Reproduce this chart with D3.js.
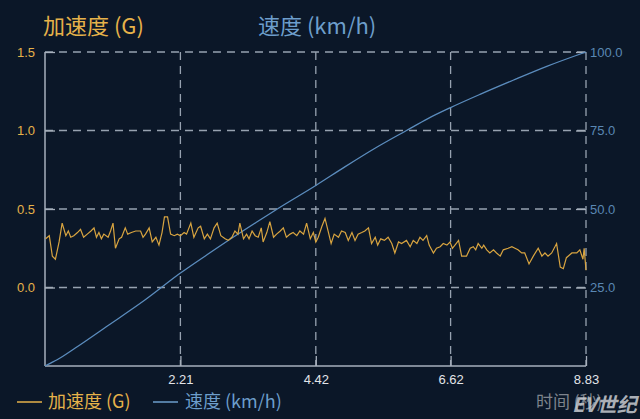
<!DOCTYPE html>
<html><head><meta charset="utf-8">
<script src="https://cdn.jsdelivr.net/npm/d3@7/dist/d3.min.js"></script>
<style>
html,body{margin:0;padding:0;background:#0b1728;}
svg{display:block;}
</style></head>
<body>
<svg id="c" width="640" height="419"></svg>
<script>
// ---- data ----
const accelTime = [0.01,0.07,0.12,0.17,0.23,0.28,0.34,0.38,0.42,0.47,0.53,0.58,0.63,0.69,0.75,0.80,0.84,0.88,0.92,0.96,1.03,1.07,1.11,1.15,1.21,1.25,1.31,1.35,1.41,1.48,1.56,1.60,1.64,1.70,1.75,1.81,1.86,1.91,1.95,2.00,2.05,2.11,2.16,2.21,2.27,2.31,2.38,2.43,2.50,2.54,2.60,2.65,2.70,2.76,2.81,2.87,2.94,2.99,3.05,3.10,3.15,3.18,3.24,3.29,3.33,3.38,3.43,3.48,3.53,3.56,3.62,3.67,3.73,3.78,3.84,3.89,3.94,4.00,4.05,4.11,4.16,4.22,4.27,4.33,4.38,4.42,4.46,4.52,4.57,4.62,4.67,4.72,4.79,4.84,4.90,4.95,5.01,5.06,5.11,5.17,5.22,5.28,5.33,5.39,5.43,5.48,5.54,5.60,5.66,5.71,5.77,5.82,5.90,5.96,6.01,6.07,6.12,6.17,6.23,6.27,6.34,6.39,6.45,6.50,6.56,6.61,6.65,6.71,6.75,6.80,6.88,6.94,6.99,7.03,7.07,7.13,7.16,7.21,7.26,7.32,7.37,7.43,7.48,7.56,7.62,7.67,7.72,7.78,7.83,7.90,7.97,8.05,8.11,8.16,8.21,8.27,8.35,8.41,8.46,8.51,8.60,8.68,8.73,8.78,8.80,8.83];
const accelValue = [0.31,0.33,0.20,0.18,0.29,0.41,0.33,0.36,0.32,0.33,0.35,0.37,0.32,0.34,0.36,0.38,0.32,0.35,0.31,0.34,0.32,0.36,0.41,0.25,0.31,0.32,0.38,0.34,0.35,0.36,0.36,0.32,0.34,0.38,0.29,0.32,0.27,0.35,0.45,0.45,0.34,0.33,0.34,0.33,0.35,0.34,0.41,0.32,0.38,0.39,0.31,0.34,0.31,0.38,0.41,0.33,0.31,0.30,0.32,0.36,0.34,0.41,0.31,0.34,0.31,0.36,0.33,0.32,0.38,0.29,0.35,0.42,0.32,0.34,0.36,0.38,0.32,0.34,0.35,0.33,0.36,0.34,0.41,0.31,0.35,0.29,0.32,0.39,0.44,0.36,0.28,0.34,0.32,0.36,0.35,0.30,0.35,0.30,0.34,0.35,0.36,0.38,0.28,0.32,0.27,0.31,0.30,0.32,0.28,0.22,0.29,0.28,0.30,0.26,0.30,0.28,0.32,0.30,0.33,0.27,0.22,0.25,0.26,0.28,0.27,0.29,0.25,0.28,0.30,0.20,0.20,0.25,0.26,0.24,0.28,0.25,0.27,0.24,0.22,0.24,0.22,0.20,0.24,0.25,0.26,0.25,0.24,0.22,0.22,0.15,0.20,0.25,0.20,0.22,0.20,0.22,0.28,0.13,0.12,0.19,0.22,0.22,0.24,0.18,0.25,0.11];
const speedTime = [0,0.1,0.19,0.5,1.0,1.63,2.21,2.65,3.07,3.45,3.83,4.42,4.9,5.4,5.9,6.25,6.62,7.1,7.64,8.2,8.83];
const speedValue = [0,1.0,1.9,5.8,12.5,21,29.6,35.5,41,45.8,50.5,57.5,63.5,69.5,75,78.8,82.3,86.5,91,95.5,100];
const xTicks = [2.21,4.42,6.62,8.83];
const accelTicks = [0,0.5,1.0,1.5];
const speedTicks = [25,50,75,100];
const accelName = "加速度 (G)";
const speedName = "速度 (km/h)";
const xName = "时间 (秒)";

// ---- chart ----
const W=640,H=419;
const m={l:45,r:54,t:52,b:53};
const x0=m.l,x1=W-m.r,y0=m.t,y1=H-m.b;
const gold="#e6b24a", blue="#6d9ecb", blueDark="#5a87b3", axisCol="#a7b0bc", gridCol="#97a2b0";
const FONT="'Noto Sans CJK SC','Noto Sans',sans-serif";
const NUMFONT="'Liberation Sans','Noto Sans',sans-serif";
const svg=d3.select("#c");
svg.append("rect").attr("width",W).attr("height",H).attr("fill","#0b1728");

const x=d3.scaleLinear().domain([0,8.83]).range([x0,x1]);
const yA=d3.scaleLinear().domain([-0.5,1.5]).range([y1,y0]);
const yS=d3.scaleLinear().domain([0,100]).range([y1,y0]);

// grid
const grid=svg.append("g").attr("stroke",gridCol).attr("stroke-width",1.3).attr("stroke-dasharray","8,6").attr("fill","none");
accelTicks.forEach(v=>grid.append("line").attr("x1",x0).attr("x2",x1).attr("y1",yA(v)).attr("y2",yA(v)));
xTicks.forEach(v=>grid.append("line").attr("x1",x(v)).attr("x2",x(v)).attr("y1",y0).attr("y2",y1));

// axes
const styleAxis=(g,col,size)=>{
  g.selectAll(".domain").remove();
  g.selectAll(".tick line").attr("stroke",axisCol).attr("stroke-width",1.3);
  g.selectAll(".tick text").attr("fill",col).attr("font-size",size).attr("font-family",NUMFONT);
};
svg.append("g").attr("transform",`translate(${x0},0)`)
  .call(d3.axisLeft(yA).tickValues(accelTicks).tickSize(-10).tickPadding(10).tickFormat(d3.format(".1f")))
  .call(g=>styleAxis(g,gold,13));
svg.append("g").attr("transform",`translate(${x1},0)`)
  .call(d3.axisRight(yS).tickValues(speedTicks).tickSize(-10).tickPadding(4).tickFormat(d3.format(".1f")))
  .call(g=>styleAxis(g,blueDark,13));
svg.append("g").attr("transform",`translate(0,${y1})`)
  .call(d3.axisBottom(x).tickValues(xTicks).tickSize(-10).tickPadding(9).tickFormat(d3.format(".2f")))
  .call(g=>styleAxis(g,"#e2e4e8",13));
// solid left and bottom axis lines
svg.append("line").attr("x1",x0).attr("x2",x0).attr("y1",y0).attr("y2",y1).attr("stroke",axisCol).attr("stroke-width",1.5);
svg.append("line").attr("x1",x0).attr("x2",x1).attr("y1",y1).attr("y2",y1).attr("stroke",axisCol).attr("stroke-width",1.5);

// lines
const accelData=accelTime.map((t,i)=>[t,accelValue[i]]);
const speedData=speedTime.map((t,i)=>[t,speedValue[i]]);
svg.append("path").datum(speedData).attr("fill","none").attr("stroke","#5b8cbd").attr("stroke-width",1.3)
  .attr("d",d3.line().x(d=>x(d[0])).y(d=>yS(d[1])).curve(d3.curveMonotoneX));
svg.append("path").datum(accelData).attr("fill","none").attr("stroke","#d8a440").attr("stroke-width",1.2)
  .attr("d",d3.line().x(d=>x(d[0])).y(d=>yA(d[1])));

// titles
svg.append("text").attr("x",43).attr("y",34).attr("fill",gold).attr("font-size",22).attr("font-family",FONT).text(accelName);
svg.append("text").attr("x",258).attr("y",34).attr("fill",blue).attr("font-size",22).attr("font-family",FONT).text(speedName);

// legend
const lg=svg.append("g").attr("font-family",FONT).attr("font-size",18);
lg.append("line").attr("x1",17).attr("x2",42).attr("y1",402).attr("y2",402).attr("stroke",gold).attr("stroke-width",1.5);
lg.append("text").attr("x",48).attr("y",408).attr("fill",gold).text(accelName);
lg.append("line").attr("x1",153).attr("x2",178).attr("y1",402).attr("y2",402).attr("stroke",blue).attr("stroke-width",1.5);
lg.append("text").attr("x",185).attr("y",408).attr("fill",blue).text(speedName);

// x axis name + watermark (watermark overlaps the axis name in the reference)
svg.append("text").attr("x",536).attr("y",408).attr("fill","#7d838c").attr("font-size",17).attr("font-family",FONT).text(xName);
svg.append("text").attr("x",572).attr("y",412).attr("fill","#c9ccd1").attr("fill-opacity",0.85)
  .attr("font-size",20).attr("font-weight","bold").attr("font-style","italic").attr("font-family",FONT).text("EV世纪");
</script>
</body></html>
